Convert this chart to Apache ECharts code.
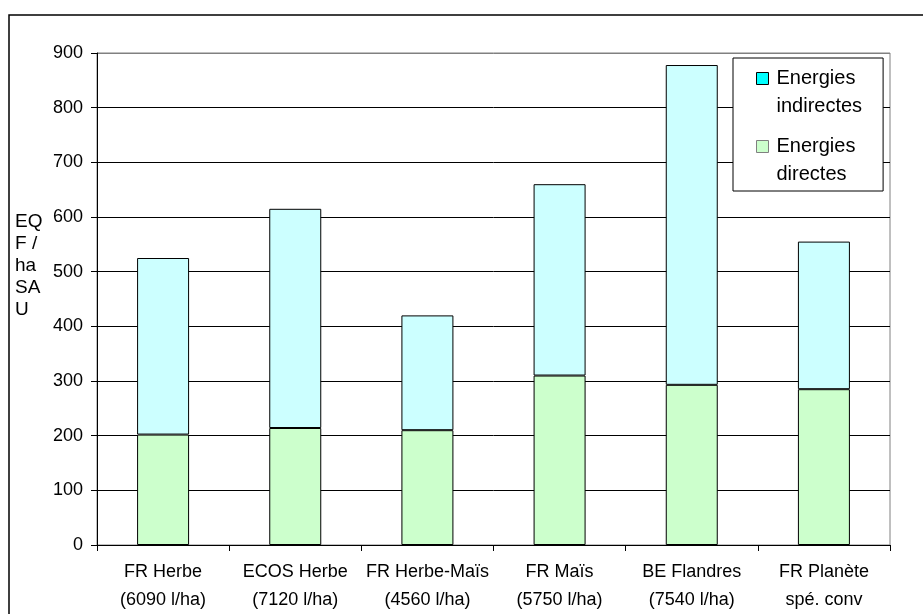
<!DOCTYPE html>
<html>
<head>
<meta charset="utf-8">
<script src="https://cdn.jsdelivr.net/npm/echarts@6/dist/echarts.min.js"></script>
<style>
    html, body { margin: 0; padding: 0; background: #fff; }
    #chart { width: 923px; height: 614px; }
</style>
</head>
<body>
<div id="chart"></div>
<script>
    // categories (axis labels, two lines each)
    const categories = [
        'FR Herbe\n(6090 l/ha)',
        'ECOS Herbe\n(7120 l/ha)',
        'FR Herbe-Maïs\n(4560 l/ha)',
        'FR Maïs\n(5750 l/ha)',
        'BE Flandres\n(7540 l/ha)',
        'FR Planète\nspé. conv'
    ];
    // EQF / ha SAU
    const directes = [202, 214, 210, 310, 293, 285];
    const indirectes = [323, 401, 210, 350, 585, 270];
    const yTicks = [0, 100, 200, 300, 400, 500, 600, 700, 800, 900];

    const font = "'Liberation Sans', Arial, sans-serif";
    // last grid line (900) is the grey plot border
    const gridColors = yTicks.map((v, i) => i === yTicks.length - 1 ? '#808080' : '#000');

    const chart = echarts.init(document.getElementById('chart'));
    chart.setOption({
        animation: false,
        backgroundColor: '#fff',
        textStyle: { fontFamily: font, color: '#000' },
        grid: {
            left: 97,
            right: 33,
            top: 53,
            bottom: 69,
            show: true,
            borderColor: '#808080',
            borderWidth: 1
        },
        legend: {
            orient: 'vertical',
            left: 733,
            top: 58,
            padding: [6, 21, 3, 23],
            itemGap: 12,
            itemWidth: 12,
            itemHeight: 39,
            // square sits on the first text line
            icon: 'path://M0,0H10V10H0Z M0,32.5',
            backgroundColor: '#fff',
            borderColor: '#000',
            borderWidth: 1,
            borderRadius: 0,
            selectedMode: false,
            formatter: name => name.replace(' ', '\n'),
            textStyle: {
                fontFamily: font,
                fontSize: 20,
                lineHeight: 28,
                color: '#000',
                padding: [0, 0, 0, 3]
            },
            data: [
                { name: 'Energies indirectes', itemStyle: { color: '#00ffff', borderColor: '#000', borderWidth: 1 } },
                { name: 'Energies directes', itemStyle: { color: '#ccffcc', borderColor: '#808080', borderWidth: 1 } }
            ]
        },
        graphic: [
            {
                // outer chart frame
                type: 'rect',
                shape: { x: 9, y: 15, width: 1000, height: 1000 },
                style: { fill: 'none', stroke: '#000', lineWidth: 1.5 },
                silent: true
            },
            {
                type: 'text',
                left: 15,
                top: 211,
                style: {
                    text: 'EQ\nF /\nha\nSA\nU',
                    font: '19px ' + font,
                    lineHeight: 22,
                    fill: '#000'
                }
            }
        ],
        xAxis: {
            type: 'category',
            data: categories,
            axisLine: { show: true, lineStyle: { color: '#000', width: 1 } },
            axisTick: { show: true, length: 6, inside: false, lineStyle: { color: '#000' } },
            axisLabel: {
                interval: 0,
                margin: 13,
                fontFamily: font,
                fontSize: 18,
                lineHeight: 28,
                color: '#000'
            },
            splitLine: { show: false }
        },
        yAxis: {
            type: 'value',
            min: 0,
            max: 900,
            interval: 100,
            axisLine: { show: true, lineStyle: { color: '#000', width: 1 } },
            axisTick: { show: true, length: 6, lineStyle: { color: '#000' } },
            axisLabel: {
                margin: 14,
                fontFamily: font,
                fontSize: 18,
                color: '#000'
            },
            splitLine: { show: true, lineStyle: { color: gridColors, width: 1 } }
        },
        series: [
            {
                name: 'Energies directes',
                type: 'bar',
                stack: 'total',
                barWidth: 52,
                data: directes,
                itemStyle: { color: '#ccffcc', borderColor: '#000', borderWidth: 1 }
            },
            {
                name: 'Energies indirectes',
                type: 'bar',
                stack: 'total',
                barWidth: 52,
                data: indirectes,
                itemStyle: { color: '#ccffff', borderColor: '#000', borderWidth: 1 }
            }
        ]
    });
</script>
</body>
</html>
